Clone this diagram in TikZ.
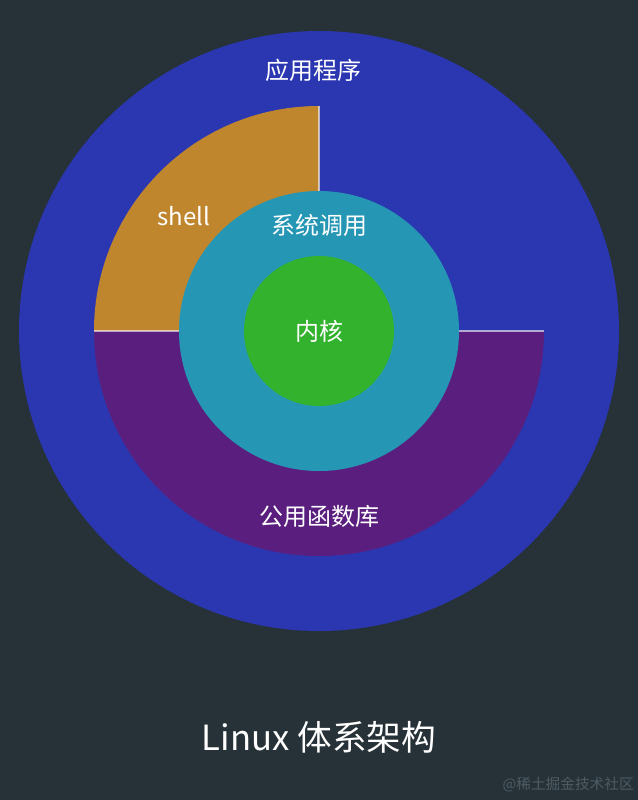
\documentclass[tikz,border=0pt]{standalone}
\usepackage{fontspec}
\setmainfont{Noto Sans CJK SC}
\definecolor{bgdark}{HTML}{263238}
\definecolor{appblue}{HTML}{2B36B1}
\definecolor{shellorange}{HTML}{C0862E}
\definecolor{libpurple}{HTML}{5A1F7E}
\definecolor{callteal}{HTML}{2596B4}
\definecolor{kernelgreen}{HTML}{33B22D}
\definecolor{markgray}{HTML}{4F5B63}
\begin{document}
\begin{tikzpicture}[x=0.75pt,y=-0.75pt]
       \tikzstyle{ring}=[circle, inner sep=0pt]
       \tikzstyle{txt}=[text=white, font=\fontsize{18}{22}\selectfont]
       \tikzstyle{edge}=[white, opacity=0.6, line width=1.2pt]
       \useasboundingbox (0,0) rectangle (638,800);
       \fill[bgdark] (0,0) rectangle (638,800);
       \node[ring, fill=appblue, minimum size=450pt] (apps) at (319,331) {};
       \coordinate (mid) at (319,331);
       \coordinate (left) at (94,331);
       \coordinate (right) at (544,331);
       \coordinate (top) at (319,106);
       \fill[shellorange] (mid) -- (left) arc[start angle=180, end angle=90, radius=168.75pt] -- cycle;
       \fill[libpurple] (left) arc[start angle=180, end angle=360, radius=168.75pt] -- cycle;
       \draw[edge] (top) -- (mid);
       \draw[edge] (left) -- (right);
       \node[ring, fill=callteal, minimum size=210pt] (syscall) at (mid) {};
       \node[ring, fill=kernelgreen, minimum size=112.5pt, txt] (kernel) at (mid) {内核};
       \node[txt] (appstxt) at (313,70) {应用程序};
       \node[txt] (shelltxt) at (184,216) {shell};
       \node[txt] (calltxt) at (319,225) {系统调用};
       \node[txt] (libtxt) at (319,516) {公用函数库};
       \node[text=white, font=\fontsize{26}{30}\selectfont] (title) at (319,737) {Linux 体系架构};
       \node[markgray, font=\fontsize{11}{13}\selectfont, anchor=east, inner sep=0pt] (mark) at (634,785) {@稀土掘金技术社区};
      \end{tikzpicture}
\end{document}
